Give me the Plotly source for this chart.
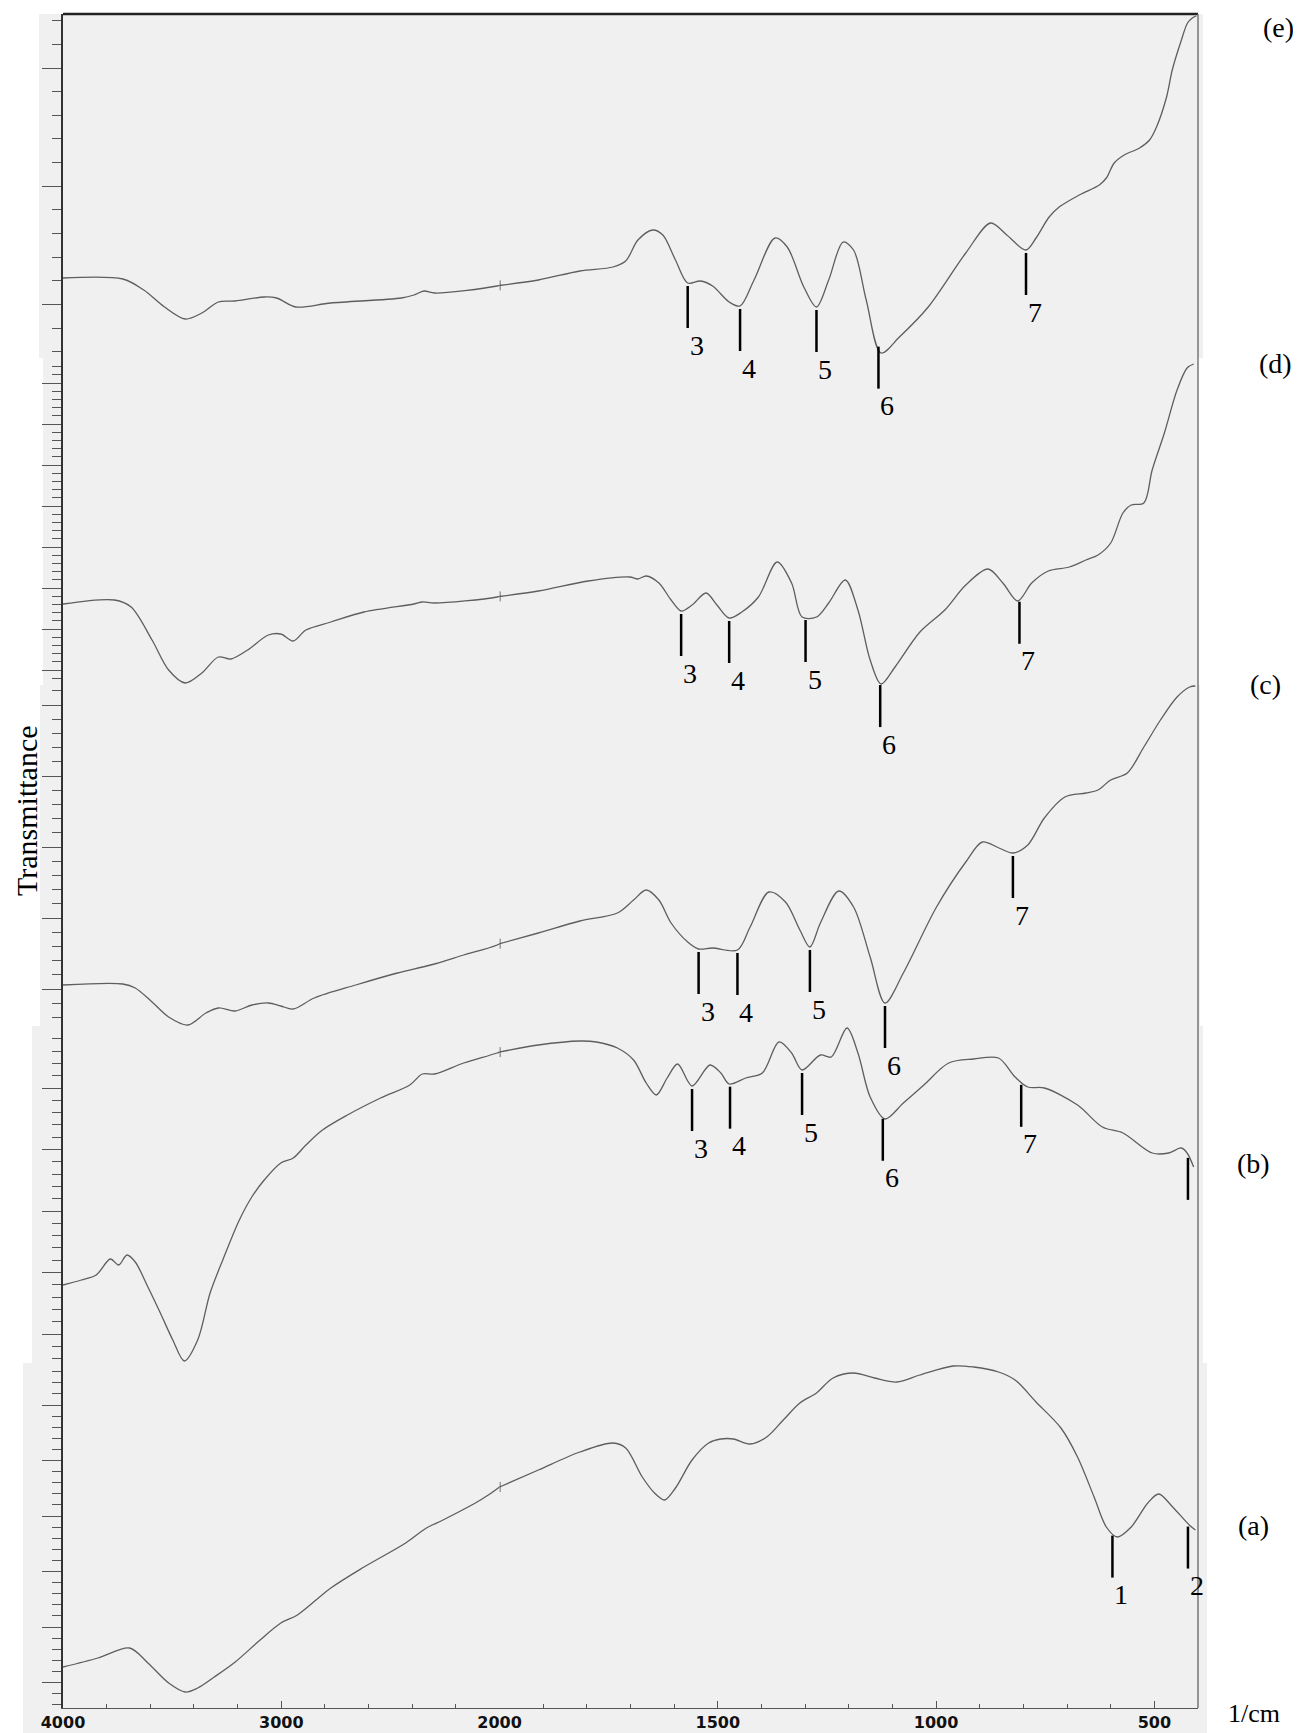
import numpy as np
import plotly.graph_objects as go

# ---------------- data (wavenumber in 1/cm, transmittance in stacked arbitrary units) -------------
wn_e = [4000, 3726, 3630, 3535, 3440, 3364, 3288, 3211, 3078, 3021, 2933, 2773, 2449, 2392, 2346, 2297,
        2011, 1911, 1816, 1740, 1711, 1683, 1649, 1626, 1597, 1569, 1540, 1512, 1474, 1449, 1417, 1369,
        1341, 1303, 1274, 1246, 1213, 1189, 1160, 1126, 1084, 1018, 932, 875, 838, 794, 771, 741, 718,
        672, 626, 610, 592, 569, 534, 511, 495, 472, 459, 438, 424, 413, 404]
t_e = [1430, 1429, 1418, 1401, 1389, 1395, 1406, 1407, 1411, 1410, 1401, 1405, 1410, 1413, 1417, 1415,
       1422, 1428, 1437, 1441, 1447, 1468, 1478, 1473, 1448, 1425, 1427, 1422, 1406, 1402, 1428, 1470,
       1461, 1421, 1401, 1428, 1466, 1458, 1408, 1355, 1371, 1401, 1455, 1485, 1473, 1458, 1470, 1491,
       1501, 1513, 1523, 1530, 1545, 1553, 1560, 1568, 1581, 1611, 1638, 1668, 1685, 1690, 1692]

wn_d = [4000, 3764, 3688, 3592, 3516, 3440, 3364, 3288, 3230, 3154, 3059, 3002, 2945, 2887, 2773, 2621,
        2392, 2354, 2297, 2011, 1911, 1797, 1702, 1683, 1664, 1635, 1607, 1584, 1559, 1527, 1502, 1474,
        1445, 1407, 1364, 1331, 1307, 1274, 1246, 1208, 1179, 1151, 1126, 1094, 1037, 980, 932, 881,
        847, 813, 781, 743, 695, 657, 629, 600, 572, 553, 524, 505, 477, 448, 425, 410]
t_d = [1104, 1108, 1101, 1068, 1038, 1025, 1035, 1051, 1049, 1058, 1073, 1074, 1067, 1078, 1086, 1096,
       1104, 1106, 1105, 1111, 1117, 1127, 1131, 1129, 1132, 1125, 1108, 1097, 1103, 1115, 1103, 1090,
       1096, 1111, 1146, 1125, 1091, 1091, 1105, 1128, 1098, 1048, 1024, 1041, 1076, 1098, 1123, 1139,
       1125, 1107, 1125, 1137, 1141, 1148, 1153, 1165, 1195, 1203, 1205, 1238, 1275, 1318, 1340, 1344]

wn_c = [4000, 3726, 3669, 3592, 3516, 3429, 3345, 3288, 3211, 3135, 3059, 3002, 2945, 2849, 2659, 2468,
        2316, 2164, 2011, 1911, 1816, 1730, 1693, 1664, 1635, 1607, 1569, 1544, 1512, 1455, 1426, 1383,
        1345, 1312, 1289, 1265, 1223, 1189, 1151, 1117, 1075, 999, 932, 894, 856, 824, 790, 752, 705,
        657, 629, 600, 562, 524, 486, 448, 419, 406]
t_c = [723, 724, 720, 706, 691, 683, 695, 700, 697, 703, 705, 702, 699, 710, 723, 735,
       743, 753, 763, 775, 787, 795, 808, 818, 808, 785, 766, 759, 760, 758, 781, 816,
       806, 778, 761, 785, 817, 801, 751, 705, 735, 801, 846, 866, 860, 855, 863, 890, 911,
       915, 918, 928, 935, 961, 988, 1011, 1021, 1022]

wn_b = [4000, 3916, 3848, 3783, 3745, 3707, 3669, 3611, 3554, 3497, 3444, 3383, 3326, 3268, 3192, 3135,
        3078, 3002, 2945, 2887, 2811, 2697, 2545, 2411, 2354, 2297, 2164, 2011, 1911, 1816, 1778, 1730,
        1693, 1664, 1641, 1616, 1592, 1559, 1518, 1493, 1474, 1436, 1398, 1360, 1331, 1307, 1265, 1240,
        1204, 1179, 1151, 1117, 1075, 1028, 971, 914, 857, 819, 790, 752, 676, 619, 572, 505, 467, 438,
        425, 410]
t_b = [423, 428, 433, 449, 443, 453, 446, 421, 395, 368, 347, 368, 415, 448, 488, 511,
       528, 545, 550, 563, 578, 593, 610, 623, 634, 634, 645, 655, 663, 667, 666, 660,
       648, 625, 613, 630, 644, 622, 643, 635, 624, 630, 635, 666, 655, 638, 653, 651,
       680, 655, 611, 589, 605, 623, 645, 649, 650, 631, 621, 620, 603, 581, 575, 555, 555, 560,
       555, 541]

wn_a = [4000, 3840, 3695, 3611, 3516, 3440, 3383, 3307, 3211, 3097, 3002, 2926, 2773, 2621, 2430, 2335,
        2259, 2087, 2000, 1911, 1816, 1740, 1711, 1673, 1645, 1622, 1597, 1559, 1521, 1493, 1464, 1426,
        1388, 1350, 1312, 1274, 1236, 1189, 1141, 1090, 1037, 961, 914, 857, 819, 771, 714, 676, 638,
        610, 585, 553, 515, 490, 458, 420, 406]
t_a = [41, 50, 60, 45, 25, 16, 20, 31, 46, 68, 85, 93, 120, 141, 165, 180,
       188, 208, 221, 238, 256, 265, 260, 231, 215, 208, 220, 248, 265, 269, 269, 264,
       271, 288, 305, 315, 330, 335, 330, 326, 333, 342, 341, 336, 328, 306, 280, 251, 211,
       181, 171, 181, 205, 214, 201, 183, 178]

# band markers (label, wavenumber)
bands_e = [("3", 1569), ("4", 1449), ("5", 1274), ("6", 1132), ("7", 794)]
bands_d = [("3", 1584), ("4", 1474), ("5", 1299), ("6", 1128), ("7", 809)]
bands_c = [("3", 1544), ("4", 1455), ("5", 1289), ("6", 1117), ("7", 824)]
bands_b = [("3", 1559), ("4", 1472), ("5", 1307), ("6", 1122), ("7", 805), ("", 423)]
bands_a = [("1", 596), ("2", 423)]

names = ["(e)", "(d)", "(c)", "(b)", "(a)"]
x_major_left = [4000, 3000, 2000]
x_major_right = [1500, 1000, 500]

# ---------------- geometry / style -------------
PAGE = 8                                  # default body margin of the html page
W, H = 1301, 1733                         # window size
L, R, T, B = 63, 1198, 14, 1708           # plot frame in window px
PW, PH = R - L, B - T
split_frac = 1000 / 2600                  # 4000-2000 drawn at half scale

def xp(x):
    return (x - L) / PW

def yp(y):
    return (B - y) / PH

LINE = "#5e5e5e"
SERIF = "Liberation Serif, Times New Roman, serif"

fig = go.Figure()

spectra = [(wn_e, t_e, bands_e), (wn_d, t_d, bands_d), (wn_c, t_c, bands_c),
           (wn_b, t_b, bands_b), (wn_a, t_a, bands_a)]

shapes = []
annotations = []

for wn, tt, bands in spectra:
    wn = np.array(wn, float)
    tt = np.array(tt, float)
    k = np.where(wn >= 2000)[0][-1]
    lsl = slice(0, min(k + 2, len(wn)))
    rsl = slice(k, None)
    common = dict(mode="lines", showlegend=False, hoverinfo="skip",
                  line=dict(color=LINE, width=1.3, shape="spline", smoothing=0.9))
    fig.add_trace(go.Scatter(x=wn[lsl], y=tt[lsl], xaxis="x", yaxis="y", **common))
    fig.add_trace(go.Scatter(x=wn[rsl], y=tt[rsl], xaxis="x2", yaxis="y", **common))
    # scale-change mark at 2000
    y2000 = float(np.interp(2000, wn[::-1], tt[::-1]))
    shapes.append(dict(type="line", xref="x2", yref="y", x0=1999, x1=1999,
                       y0=y2000 - 5, y1=y2000 + 5, line=dict(color="#444", width=1)))
    for lab, b in bands:
        yc = float(np.interp(b, wn[::-1], tt[::-1]))
        y0 = yc - 3
        y1 = y0 - 42
        shapes.append(dict(type="line", xref="x2", yref="y", x0=b, x1=b, y0=y0, y1=y1,
                           line=dict(color="black", width=2.5)))
        if lab:
            annotations.append(dict(x=b, y=y1 - 17, xref="x2", yref="y", text=lab,
                                    showarrow=False, xshift=9, xanchor="center", yanchor="middle",
                                    font=dict(family=SERIF, size=28, color="black")))

# gray scanned panels (background)
panels = [(39, 14, 1203, 358), (43, 358, 1198, 685), (40, 685, 1200, 1026),
          (32, 1026, 1203, 1363), (23, 1363, 1207, 1733)]
for x0, y0, x1, y1 in panels:
    shapes.append(dict(type="rect", xref="paper", yref="paper", x0=xp(x0), x1=xp(x1),
                       y0=yp(y1), y1=yp(y0), fillcolor="#f0f0f0", line=dict(width=0),
                       layer="below"))

# frame lines
shapes.append(dict(type="line", xref="paper", yref="paper", x0=0, x1=1, y0=1, y1=1,
                   line=dict(color="#222", width=2.5)))
shapes.append(dict(type="line", xref="paper", yref="paper", x0=1, x1=1, y0=0, y1=1,
                   line=dict(color="#777", width=1.5)))

# y-axis tick marks: each pasted panel has its own spacing
tick_panels = [(14, 358, 23.65, 68), (358, 685, 8.2, 383), (685, 1026, 14.2, 776),
               (1026, 1363, 12.3, 1088), (1363, 1708, 11.1, 1405)]
major_y, minor_y = [], []
for top, bot, step, ref in tick_panels:
    kmin = int(np.ceil((top + 3 - ref) / step))
    kmax = int(np.floor((bot - 3 - ref) / step))
    for kk in range(kmin, kmax + 1):
        p = ref + kk * step
        (major_y if kk % 5 == 0 else minor_y).append(B - p)

# panel labels
label_pos = [(1278, 27), (1275, 364), (1265, 684), (1253, 1163), (1253, 1525)]
for name, (x, y) in zip(names, label_pos):
    annotations.append(dict(x=xp(x), y=yp(y), xref="paper", yref="paper", text=name,
                            showarrow=False, xanchor="center", yanchor="middle",
                            font=dict(family=SERIF, size=28, color="black")))

annotations.append(dict(x=xp(26), y=yp(811), xref="paper", yref="paper", text="Transmittance",
                        textangle=-90, showarrow=False, xanchor="center", yanchor="middle",
                        font=dict(family=SERIF, size=30, color="black")))
annotations.append(dict(x=xp(1254), y=yp(1713), xref="paper", yref="paper", text="1/cm",
                        showarrow=False, xanchor="center", yanchor="middle",
                        font=dict(family=SERIF, size=26, color="black")))

tickfont = dict(family="DejaVu Sans", size=16, color="#111", weight="bold")
xcommon = dict(showgrid=False, zeroline=False, showline=True, linecolor="#555", linewidth=1.2,
               ticks="inside", ticklen=7, tickcolor="#555", tickfont=tickfont, automargin=False,
               anchor="y")

fig.update_layout(
    width=W - PAGE, height=H - PAGE,
    margin=dict(l=L - PAGE, r=W - R, t=T - PAGE, b=H - B, pad=0),
    paper_bgcolor="white", plot_bgcolor="rgba(0,0,0,0)",
    showlegend=False,
    xaxis=dict(domain=[0, split_frac], range=[4000, 2000], tickmode="array",
               tickvals=x_major_left, ticktext=[str(v) for v in x_major_left],
               minor=dict(tickmode="array", tickvals=[3800, 3600, 3400, 3200, 2800, 2600, 2400, 2200],
                          ticks="inside", ticklen=4, tickcolor="#555"),
               **xcommon),
    xaxis2=dict(domain=[split_frac, 1], range=[2000, 400], tickmode="array",
                tickvals=x_major_right, ticktext=[str(v) for v in x_major_right],
                minor=dict(tickmode="array",
                           tickvals=[v for v in range(1900, 400, -100) if v not in x_major_right],
                           ticks="inside", ticklen=4, tickcolor="#555"),
                **xcommon),
    yaxis=dict(range=[0, PH], anchor="x", showgrid=False, zeroline=False, showline=True,
               linecolor="#333", linewidth=1.5, showticklabels=False, automargin=False,
               tickmode="array", tickvals=major_y, ticks="outside", ticklen=19,
               tickcolor="#555", tickwidth=1,
               minor=dict(tickmode="array", tickvals=minor_y, ticks="outside", ticklen=9,
                          tickcolor="#555", tickwidth=1)),
    shapes=shapes,
    annotations=annotations,
)

fig.write_html("out.html")
